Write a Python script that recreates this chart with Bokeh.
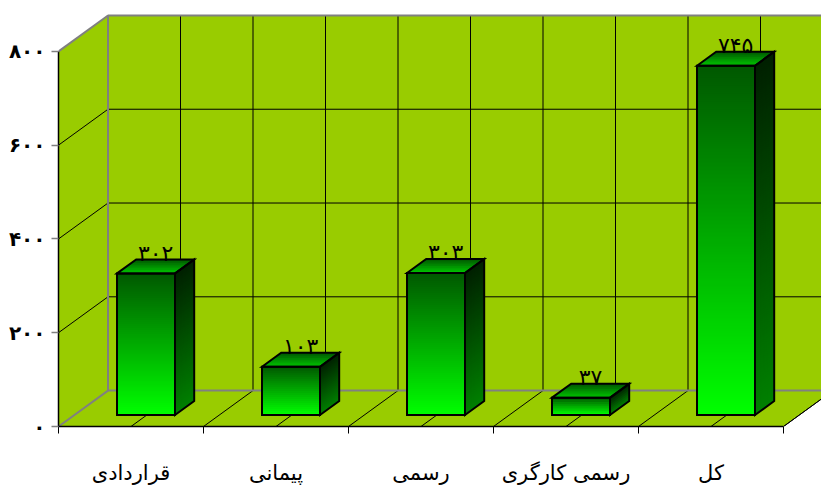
from bokeh.plotting import figure
from bokeh.embed import file_html
from bokeh.resources import INLINE
from bokeh.models import LinearAxis, FixedTicker, Range1d
from bokeh.core.properties import value

categories = ["قراردادی", "پیمانی", "رسمی", "رسمی کارگری", "کل"]
values = [302, 103, 303, 37, 745]
value_labels = ["۳۰۲", "۱۰۳", "۳۰۳", "۳۷", "۷۴۵"]
y_ticks = [0, 200, 400, 600, 800]
y_tick_labels = ["۰", "۲۰۰", "۴۰۰", "۶۰۰", "۸۰۰"]

FONT = "DejaVu Sans"
WALL = "#99CC00"
GRAY = "#808080"

# pixel scale of the front plane
PX_X = 145.0   # px per category
PX_Y = 0.47    # px per value unit
L, T = 58, 0
W, H = 821, 487
B = 60

DEPTH_X = 49.5 / PX_X
DEPTH_Y = 36 / PX_Y
BAR_W = 58 / PX_X
BAR_DX = 15 / PX_X
BAR_DY = 11.5 / PX_Y
BAR_SX = 19.2 / PX_X
BAR_SY = 14 / PX_Y

frame_w = W - L
frame_h = H - B
x_end = frame_w / PX_X
y_end = frame_h / PX_Y

p = figure(width=W, height=H, output_backend="svg", toolbar_location=None,
           x_range=Range1d(0, x_end), y_range=Range1d(0, y_end),
           min_border_left=L, min_border_right=0, min_border_top=T, min_border_bottom=B,
           x_axis_location=None, y_axis_location=None)
p.outline_line_color = None
p.grid.visible = False
p.background_fill_color = "white"
p.border_fill_color = "white"

n_cat = len(categories)
# walls and floor
floor_x = [0, n_cat, n_cat + DEPTH_X, DEPTH_X]
floor_y = [0, 0, DEPTH_Y, DEPTH_Y]
p.patch(floor_x, floor_y, fill_color=WALL, line_color=None)
top = y_ticks[-1]
p.patch([0, DEPTH_X, DEPTH_X, 0], [0, DEPTH_Y, top + DEPTH_Y, top], fill_color=WALL, line_color=None)
p.patch([DEPTH_X, n_cat + DEPTH_X, n_cat + DEPTH_X, DEPTH_X],
        [DEPTH_Y, DEPTH_Y, top + DEPTH_Y, top + DEPTH_Y], fill_color=WALL, line_color=None)

# grid: half-category verticals on the back wall and floor diagonals
half = [i * 0.5 for i in range(1, 2 * n_cat + 1)]
p.multi_line([[h + DEPTH_X, h + DEPTH_X] for h in half],
             [[DEPTH_Y, top + DEPTH_Y] for _ in half], line_color="black", line_width=1)
p.multi_line([[h, h + DEPTH_X] for h in half],
             [[0, DEPTH_Y] for _ in half], line_color="black", line_width=1)
# grid: horizontals on the back wall and diagonals on the side wall
inner = y_ticks[1:-1]
p.multi_line([[DEPTH_X, n_cat + DEPTH_X] for t in inner],
             [[t + DEPTH_Y, t + DEPTH_Y] for t in inner], line_color="black", line_width=1)
p.multi_line([[0, DEPTH_X] for t in inner],
             [[t, t + DEPTH_Y] for t in inner], line_color="black", line_width=1)
# gray wall edges
p.line([n_cat + DEPTH_X, DEPTH_X, DEPTH_X, n_cat + DEPTH_X],
       [top + DEPTH_Y, top + DEPTH_Y, DEPTH_Y, DEPTH_Y], line_color=GRAY, line_width=2)
p.line([0, DEPTH_X, DEPTH_X], [top, top + DEPTH_Y, top + DEPTH_Y], line_color=GRAY, line_width=2)
p.line([0, DEPTH_X], [0, DEPTH_Y], line_color=GRAY, line_width=2)
p.line([n_cat, n_cat + DEPTH_X], [0, DEPTH_Y], line_color="black", line_width=1)


def mix(c0, c1, t):
    return "#%02x%02x%02x" % tuple(round(a + (b - a) * t) for a, b in zip(c0, c1))


FRONT = ((0, 0x58, 0), (0, 0xFF, 0))
SIDE = ((0, 0x20, 0), (0, 0x80, 0))
TOPF = ((0, 0x55, 0), (0, 0xC8, 0))

xs, ys, cs = [], [], []
ox, oy, tx, ty = [], [], [], []
for i, v in enumerate(values):
    x0 = i + 0.5 - BAR_W / 2 + BAR_DX
    x1 = x0 + BAR_W
    y0 = BAR_DY
    y1 = BAR_DY + v
    # front face and side face: vertical gradient
    n = max(4, int(v * PX_Y / 2))
    ov = 1.2 / PX_Y
    for k in range(n):
        a = y1 - v * k / n
        b = max(y0, y1 - v * (k + 1) / n - ov)
        t = (k + 0.5) / n
        xs.append([x0, x1, x1, x0]); ys.append([a, a, b, b]); cs.append(mix(*FRONT, t))
        xs.append([x1, x1 + BAR_SX, x1 + BAR_SX, x1])
        ys.append([a, a + BAR_SY, b + BAR_SY, b]); cs.append(mix(*SIDE, t))
    # top face: gradient from the back edge to the front edge
    m = 8
    for k in range(m):
        s0 = 1 - k / m
        s1 = max(0, 1 - (k + 1.5) / m)
        xs.append([x0 + BAR_SX * s0, x1 + BAR_SX * s0, x1 + BAR_SX * s1, x0 + BAR_SX * s1])
        ys.append([y1 + BAR_SY * s0, y1 + BAR_SY * s0, y1 + BAR_SY * s1, y1 + BAR_SY * s1])
        cs.append(mix(*TOPF, (k + 0.5) / m))
    # outlines
    ox += [[x0, x1, x1, x0],
           [x1, x1 + BAR_SX, x1 + BAR_SX, x1],
           [x0, x0 + BAR_SX, x1 + BAR_SX, x1]]
    oy += [[y0, y0, y1, y1],
           [y0, y0 + BAR_SY, y1 + BAR_SY, y1],
           [y1, y1 + BAR_SY, y1 + BAR_SY, y1]]
    tx.append(x0 + BAR_W / 2 + BAR_SX / 2)
    ty.append(y1 + BAR_SY)

p.patches(xs, ys, fill_color=cs, line_color=None)
p.patches(ox, oy, fill_color=None, line_color="black", line_width=2, line_join="miter")
p.text(tx, ty, text=value_labels, text_font=value(FONT), text_font_size="22px",
       text_align="center", text_baseline="middle", text_color="black", y_offset=-6)

# axes
yax = LinearAxis(ticker=FixedTicker(ticks=y_ticks),
                 major_label_overrides={t: s for t, s in zip(y_ticks, y_tick_labels)})
yax.bounds = (0, top)
yax.major_tick_in = 0
yax.major_tick_out = 7
yax.minor_tick_line_color = None
yax.major_tick_line_color = GRAY
yax.major_tick_line_width = 1.5
yax.axis_line_color = "black"
yax.axis_line_width = 1.5
yax.major_label_text_font = FONT
yax.major_label_text_font_size = "20px"
yax.major_label_text_font_style = "bold"
yax.major_label_text_color = "black"
yax.major_label_standoff = 6
p.add_layout(yax, "left")

centers = [i + 0.5 for i in range(n_cat)]
xax = LinearAxis(ticker=FixedTicker(ticks=centers, minor_ticks=list(range(n_cat + 1))),
                 major_label_overrides={c: s for c, s in zip(centers, categories)})
xax.bounds = (0, n_cat)
xax.major_tick_line_color = None
xax.major_tick_in = 0
xax.major_tick_out = 0
xax.minor_tick_in = 0
xax.minor_tick_out = 7
xax.minor_tick_line_color = "black"
xax.axis_line_color = "black"
xax.axis_line_width = 1.5
xax.major_label_text_font = FONT
xax.major_label_text_font_size = "21px"
xax.major_label_text_color = "black"
xax.major_label_standoff = 27
p.add_layout(xax, "below")

open("out.html", "w").write(file_html(p, INLINE))
